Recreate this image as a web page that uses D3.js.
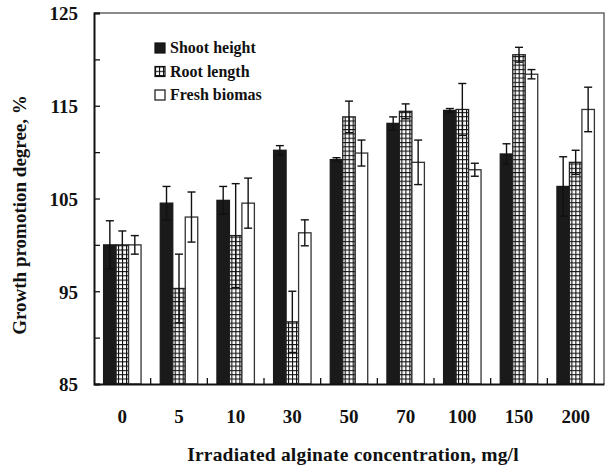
<!DOCTYPE html>
<html>
<head>
<meta charset="utf-8">
<script src="https://cdn.jsdelivr.net/npm/d3@7"></script>
<style>
  body { margin: 0; background: #fff; }
  text { font-family: "Liberation Serif", "Times New Roman", serif; font-weight: bold; fill: #111; }
</style>
</head>
<body>
<svg id="chart"></svg>
<script>
// data
const categories = ['0', '5', '10', '30', '50', '70', '100', '150', '200'];
const seriesNames = ['Shoot height', 'Root length', 'Fresh biomas'];
const shoot = [100.0, 104.5, 104.8, 110.2, 109.2, 113.1, 114.5, 109.8, 106.3];
const shootErr = [2.6, 1.8, 1.5, 0.5, 0.2, 0.7, 0.2, 1.1, 3.2];
const root = [100.0, 95.3, 101.0, 91.7, 113.8, 114.4, 114.6, 120.5, 108.9];
const rootErr = [1.5, 3.7, 5.6, 3.3, 1.7, 0.8, 2.8, 0.8, 1.3];
const fresh = [100.0, 103.0, 104.5, 101.3, 109.9, 108.9, 108.1, 118.4, 114.6];
const freshErr = [1.0, 2.7, 2.7, 1.4, 1.4, 2.4, 0.7, 0.5, 2.4];
const yTicks = [85, 90, 95, 100, 105, 110, 115, 120, 125];
const yLabels = [85, 95, 105, 115, 125];

const width = 609, height = 469;
const margin = { top: 13, right: 5, bottom: 85, left: 94 };
const innerW = width - margin.left - margin.right;
const innerH = height - margin.top - margin.bottom;

const svg = d3.select('#chart').attr('width', width).attr('height', height);

// hatch for root length
const defs = svg.append('defs');
const pat = defs.append('pattern')
    .attr('id', 'grid')
    .attr('patternUnits', 'userSpaceOnUse')
    .attr('width', 4).attr('height', 4.3);
pat.append('rect').attr('width', 4).attr('height', 4.3).attr('fill', '#fff');
pat.append('path').attr('d', 'M0,0.5H4M0.5,0V4.3')
    .attr('stroke', '#111').attr('stroke-width', 1.2);

const chart = svg.append('g')
    .attr('transform', `translate(${margin.left},${margin.top})`);

const x0 = d3.scaleBand().domain(categories).range([0, innerW]);
const x1 = d3.scaleBand().domain(seriesNames).range([0, x0.bandwidth()])
    .paddingInner(0).paddingOuter(0.77);
const y = d3.scaleLinear().domain([85, 125]).range([innerH, 0]);

const fills = ['#1a1a1a', 'url(#grid)', '#fff'];
const strokes = ['#1a1a1a', '#222', '#333'];

const rows = categories.map((c, i) => ({
    cat: c,
    vals: [
        { s: seriesNames[0], v: shoot[i], e: shootErr[i], k: 0 },
        { s: seriesNames[1], v: root[i], e: rootErr[i], k: 1 },
        { s: seriesNames[2], v: fresh[i], e: freshErr[i], k: 2 }
    ]
}));

const groups = chart.selectAll('.grp')
    .data(rows)
    .enter().append('g')
    .attr('class', 'grp')
    .attr('transform', d => `translate(${x0(d.cat)},0)`);

groups.selectAll('rect')
    .data(d => d.vals)
    .enter().append('rect')
    .attr('x', d => x1(d.s))
    .attr('y', d => y(d.v))
    .attr('width', x1.bandwidth())
    .attr('height', d => innerH - y(d.v))
    .attr('fill', d => fills[d.k])
    .attr('stroke', d => strokes[d.k])
    .attr('stroke-width', 1.3);

// error bars
const eb = groups.selectAll('.err')
    .data(d => d.vals)
    .enter().append('g')
    .attr('class', 'err')
    .attr('stroke', '#111')
    .attr('stroke-width', 1.4);
const cx = d => x1(d.s) + x1.bandwidth() / 2;
eb.append('line')
    .attr('x1', cx).attr('x2', cx)
    .attr('y1', d => y(d.v + d.e)).attr('y2', d => y(d.v - d.e));
eb.append('line')
    .attr('x1', d => cx(d) - 4).attr('x2', d => cx(d) + 4)
    .attr('y1', d => y(d.v + d.e)).attr('y2', d => y(d.v + d.e));
eb.append('line')
    .attr('x1', d => cx(d) - 4).attr('x2', d => cx(d) + 4)
    .attr('y1', d => y(d.v - d.e)).attr('y2', d => y(d.v - d.e));

// frame: top and right in grey
chart.append('path')
    .attr('d', `M0,0H${innerW}V${innerH}`)
    .attr('fill', 'none').attr('stroke', '#666').attr('stroke-width', 1.5);

// y axis
const yAxis = d3.axisLeft(y)
    .tickValues(yTicks)
    .tickSize(-6)
    .tickPadding(16)
    .tickFormat(d => yLabels.includes(d) ? d : '');
const yg = chart.append('g').call(yAxis);
yg.select('.domain').attr('stroke', '#111').attr('stroke-width', 2);
yg.selectAll('.tick line').attr('stroke', '#111').attr('stroke-width', 1.3);
yg.selectAll('text').style('font-size', '19px').attr('dy', '0.36em');

// x axis: labels at group centres, ticks between groups
const xAxis = d3.axisBottom(x0).tickSize(0).tickPadding(26);
const xg = chart.append('g')
    .attr('transform', `translate(0,${innerH})`)
    .call(xAxis);
xg.select('.domain').attr('stroke', '#111').attr('stroke-width', 2);
xg.selectAll('text').style('font-size', '19px');

chart.selectAll('.xsep')
    .data(categories.slice(0, -1))
    .enter().append('line')
    .attr('class', 'xsep')
    .attr('x1', d => x0(d) + x0.bandwidth())
    .attr('x2', d => x0(d) + x0.bandwidth())
    .attr('y1', innerH).attr('y2', innerH - 6)
    .attr('stroke', '#111').attr('stroke-width', 1.3);

// axis titles
svg.append('text')
    .attr('x', margin.left + innerW / 2 + 4)
    .attr('y', 461)
    .attr('text-anchor', 'middle')
    .style('font-size', '19.5px')
    .style('letter-spacing', '0.2px')
    .text('Irradiated alginate concentration, mg/l');

svg.append('text')
    .attr('transform', `translate(26,${215}) rotate(-90)`)
    .attr('text-anchor', 'middle')
    .style('font-size', '19px')
    .text('Growth promotion degree, %');

// legend
const legend = svg.append('g').attr('transform', 'translate(155,43)');
const li = legend.selectAll('g')
    .data(seriesNames)
    .enter().append('g')
    .attr('transform', (d, i) => `translate(0,${i * 23.5})`);
li.append('rect')
    .attr('width', 10).attr('height', 10)
    .attr('fill', (d, i) => fills[i])
    .attr('stroke', '#111').attr('stroke-width', 1.2);
li.append('text')
    .attr('x', 15).attr('y', 10)
    .style('font-size', '16px')
    .text(d => d);
</script>
</body>
</html>
